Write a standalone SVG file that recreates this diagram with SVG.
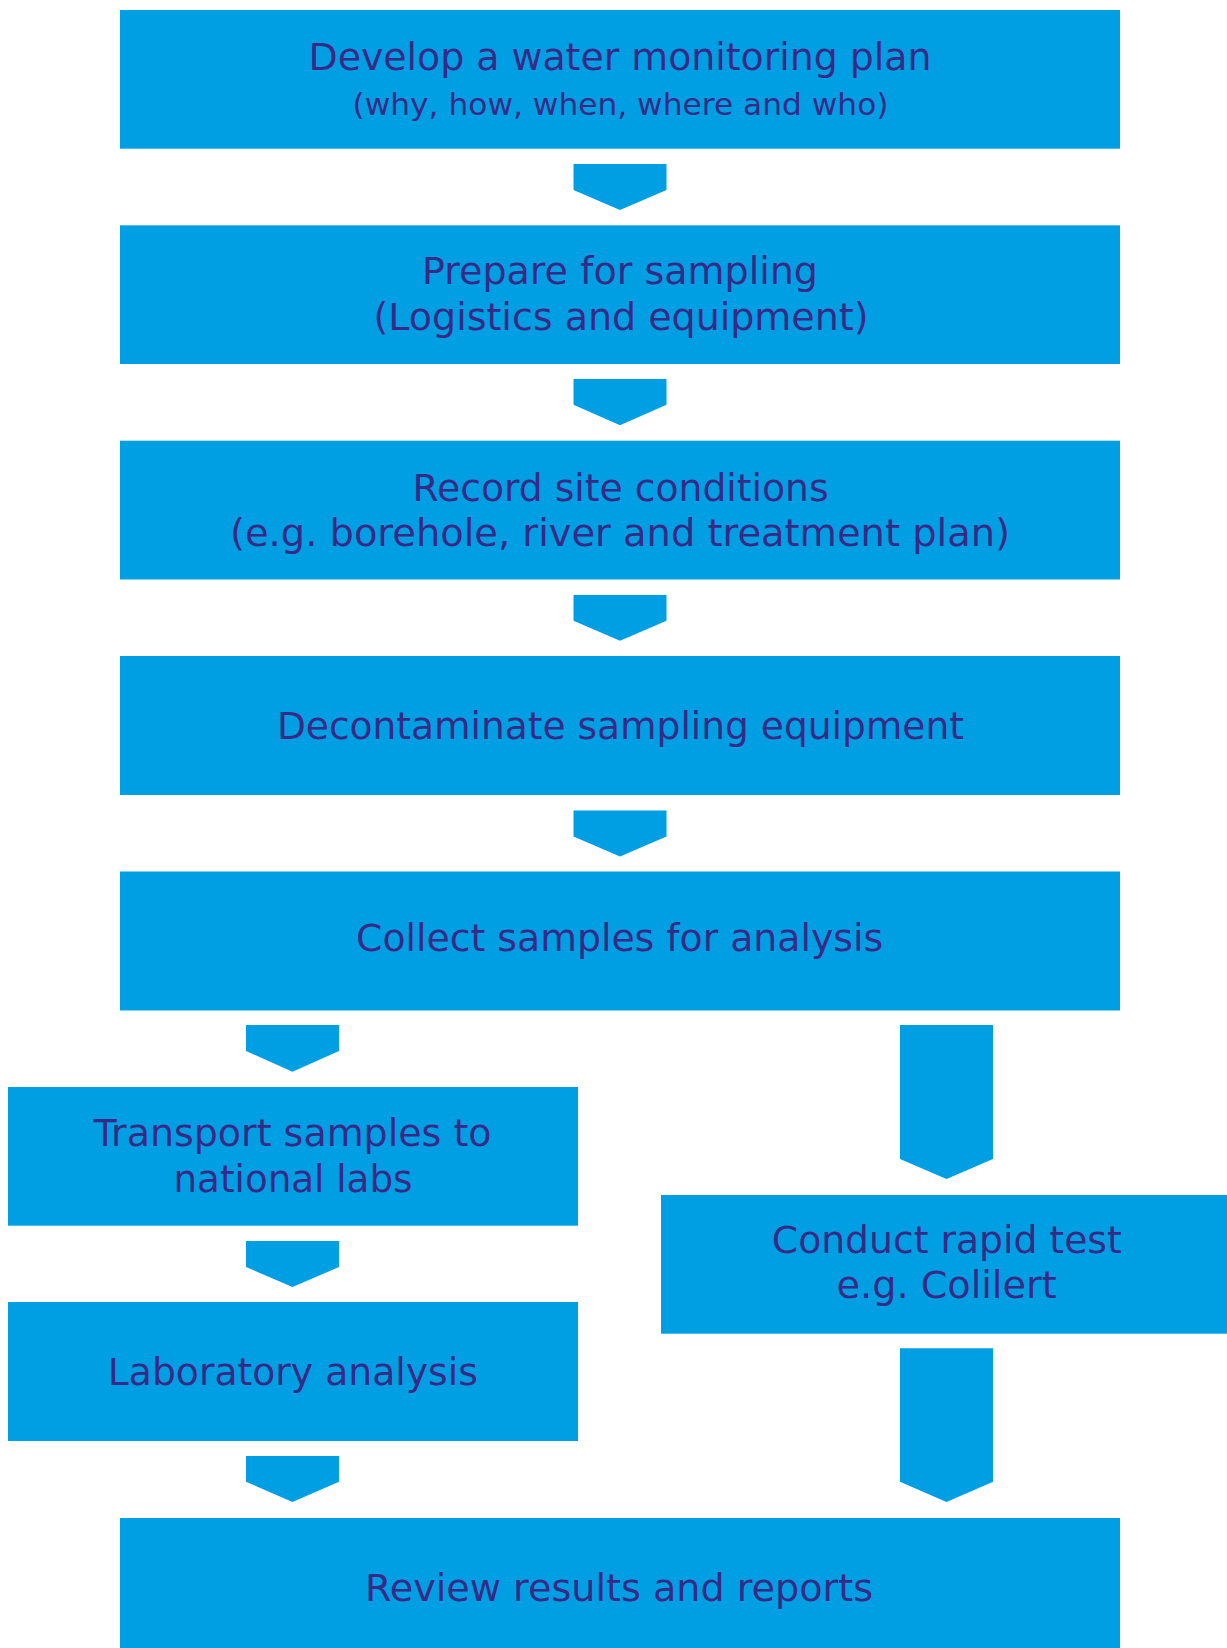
<svg xmlns="http://www.w3.org/2000/svg" width="1227" height="1648" viewBox="0 0 1227 1648">
<style>
.box{fill:#009fe3}
.arr{fill:#009fe3}
.t{font-family:"DejaVu Sans",Verdana,sans-serif;font-size:37px;fill:#362a86;text-anchor:middle}
.s{font-family:"DejaVu Sans",Tahoma,sans-serif;font-size:31px;fill:#362a86;text-anchor:middle}
</style>
<rect width="1227" height="1648" fill="#ffffff"/>
<g id="connectors">
<polygon class="arr" points="573.5,164 666.5,164 666.5,190 620,210 573.5,190"/>
<polygon class="arr" points="573.5,379 666.5,379 666.5,404.7 620,425.3 573.5,404.7"/>
<polygon class="arr" points="573.5,595 666.5,595 666.5,620.7 620,640.7 573.5,620.7"/>
<polygon class="arr" points="573.5,810.5 666.5,810.5 666.5,836.5 620,856.5 573.5,836.5"/>
<polygon class="arr" points="246,1025 339,1025 339,1051 292.5,1071.7 246,1051"/>
<polygon class="arr" points="246,1241 339,1241 339,1267 292.5,1287 246,1267"/>
<polygon class="arr" points="246,1456 339,1456 339,1481.7 292.5,1502 246,1481.7"/>
<polygon class="arr" points="900,1025 993,1025 993,1159 946.5,1179 900,1159"/>
<polygon class="arr" points="900,1348.3 993,1348.3 993,1481.7 946.5,1502 900,1481.7"/>
</g>
<g id="n1">
<rect class="box" x="120" y="10" width="1000" height="138.7"/>
<text class="t" x="620" y="70" textLength="623" lengthAdjust="spacingAndGlyphs">Develop a water monitoring plan</text>
<text class="s" x="620.5" y="115" textLength="536" lengthAdjust="spacingAndGlyphs">(why, how, when, where and who)</text>
</g>
<g id="n2">
<rect class="box" x="120" y="225.3" width="1000" height="138.7"/>
<text class="t" x="620" y="284.3" textLength="396" lengthAdjust="spacingAndGlyphs">Prepare for sampling</text>
<text class="t" x="621" y="329.5" textLength="495" lengthAdjust="spacingAndGlyphs">(Logistics and equipment)</text>
</g>
<g id="n3">
<rect class="box" x="120" y="440.7" width="1000" height="138.8"/>
<text class="t" x="620.6" y="500.7" textLength="416" lengthAdjust="spacingAndGlyphs">Record site conditions</text>
<text class="t" x="620" y="545.7" textLength="780" lengthAdjust="spacingAndGlyphs">(e.g. borehole, river and treatment plan)</text>
</g>
<g id="n4">
<rect class="box" x="120" y="656" width="1000" height="139"/>
<text class="t" x="620.4" y="739.3" textLength="687" lengthAdjust="spacingAndGlyphs">Decontaminate sampling equipment</text>
</g>
<g id="n5">
<rect class="box" x="120" y="871.5" width="1000" height="139"/>
<text class="t" x="619.6" y="950.7" textLength="527" lengthAdjust="spacingAndGlyphs">Collect samples for analysis</text>
</g>
<g id="n6">
<rect class="box" x="8" y="1087" width="570" height="138.7"/>
<text class="t" x="292.5" y="1146" textLength="398" lengthAdjust="spacingAndGlyphs">Transport samples to</text>
<text class="t" x="293" y="1191.7" textLength="239" lengthAdjust="spacingAndGlyphs">national labs</text>
</g>
<g id="n7">
<rect class="box" x="661" y="1195" width="570" height="138.7"/>
<text class="t" x="946.8" y="1253.3" textLength="350" lengthAdjust="spacingAndGlyphs">Conduct rapid test</text>
<text class="t" x="946.6" y="1298.3" textLength="220" lengthAdjust="spacingAndGlyphs">e.g. Colilert</text>
</g>
<g id="n8">
<rect class="box" x="8" y="1302" width="570" height="139"/>
<text class="t" x="292.8" y="1385" textLength="370" lengthAdjust="spacingAndGlyphs">Laboratory analysis</text>
</g>
<g id="n9">
<rect class="box" x="120" y="1518" width="1000" height="139"/>
<text class="t" x="619" y="1600.5" textLength="508" lengthAdjust="spacingAndGlyphs">Review results and reports</text>
</g>
</svg>
